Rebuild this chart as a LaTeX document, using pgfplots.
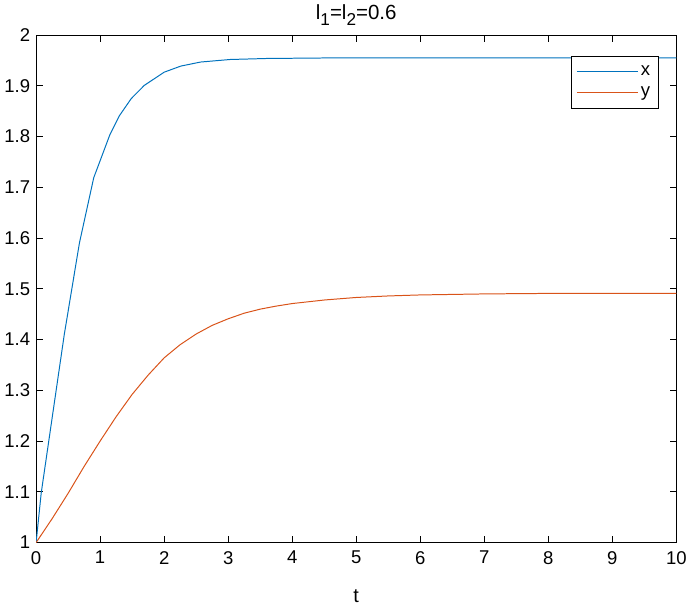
\documentclass[border=0pt]{standalone}
\usepackage{pgfplots}
\pgfplotsset{compat=1.18}
\usepackage{fontspec}
\setmainfont{Liberation Sans}
\definecolor{mblue}{rgb}{0,0.447,0.741}
\definecolor{mred}{rgb}{0.85,0.325,0.098}
\newcommand{\sub}[1]{\raisebox{-4.5pt}{\fontsize{13}{14}\selectfont #1}}
\begin{document}
\begin{tikzpicture}
\begin{axis}[
    width=484.5pt, height=384pt, scale only axis,
    xmin=0, xmax=10, ymin=1, ymax=2,
    xtick={0,1,...,10},
    ytick={1,1.1,...,2},
    yticklabel style={/pgf/number format/fixed,/pgf/number format/precision=1},
    /pgf/number format/assume math mode=true,
    tick align=inside,
    xtick pos=both, ytick pos=both,
    major tick length=5pt,
    tick style={black, line width=0.6pt},
    axis line style={line width=0.6pt},
    tick label style={font=\fontsize{14}{16}\selectfont},
    xticklabel style={yshift=-3pt},
    yticklabel style={xshift=-1pt},
    xlabel={t},
    label style={font=\fontsize{15}{17}\selectfont},
    xlabel style={yshift=-12pt},
    title={l\sub{1}=l\sub{2}=0.6},
    title style={font=\fontsize{15.5}{17}\selectfont, yshift=-2pt},
    legend style={at={(0.972,0.958)}, anchor=north east, draw=black,
        font=\fontsize{14}{16}\selectfont, line width=0.6pt,
        legend cell align=left, inner xsep=4pt, inner ysep=5pt,
        row sep=3pt},
    legend image code/.code={\draw[#1] (0cm,0cm) -- (1.62cm,0cm);},
]
\addplot[mblue, line width=0.75pt] coordinates {
(0,1) (0.08,1.098) (0.44,1.41) (0.676,1.59) (0.90,1.719) (1.15,1.803)
(1.30,1.841) (1.486,1.875) (1.69,1.901) (2.0,1.927) (2.26,1.939)
(2.57,1.947) (3.03,1.952) (3.6,1.954) (4.5,1.955) (6,1.955) (8,1.955) (10,1.955)};
\addlegendentry{x}
\addplot[mred, line width=0.75pt] coordinates {
(0,1.000) (0.25,1.047) (0.5,1.097) (0.75,1.150) (1.0,1.200) (1.25,1.248)
(1.5,1.292) (1.75,1.330) (2.0,1.364) (2.25,1.390) (2.5,1.411) (2.75,1.428)
(3.0,1.441) (3.25,1.452) (3.5,1.460) (3.75,1.466) (4.0,1.471) (4.5,1.478)
(5.0,1.483) (5.5,1.486) (6.0,1.488) (7,1.490) (8,1.491) (10,1.491)};
\addlegendentry{y}
\end{axis}
\end{tikzpicture}
\end{document}
